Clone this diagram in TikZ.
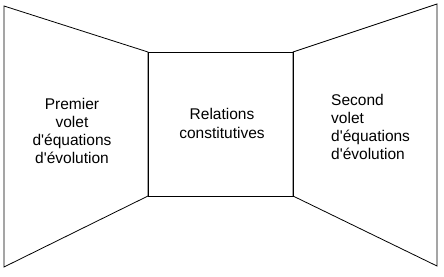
\documentclass[tikz,border=0pt]{standalone}
\usepackage{fontspec}
\setmainfont{Liberation Sans}
\usetikzlibrary{positioning}

\newcommand{\apo}{\textquotesingle}

\begin{document}
\begin{tikzpicture}[
  x=1pt, y=-1pt,
  every node/.style = {font=\fontsize{15.5}{18.2}\selectfont},
  wall/.style  = {draw=black, line width=0.8pt, line join=miter},
  label/.style = {inner sep=0pt},
]
\useasboundingbox (0,0) rectangle (444,276);

%% -- corners of the back wall
\coordinate (bl) at (148,196);
\coordinate (tl) at (148,52);
\coordinate (tr) at (293,52);
\coordinate (br) at (293,196);

%% -- outer corners
\coordinate (otl) at (4,6);
\coordinate (obl) at (4,267);
\coordinate (otr) at (437,4);
\coordinate (obr) at (437,266);

%% -- walls
\draw[wall] (otl) -- (tl) -- (bl) -- (obl) -- cycle;
\draw[wall] (tl) -- (tr) -- (br) -- (bl) -- cycle;
\draw[wall] (tr) -- (otr) -- (obr) -- (br) -- cycle;

%% -- texts
\node[label, align=center] (first) at (72,131)
  {Premier\\volet\\d\apo équations\\d\apo évolution};
\node[label, align=center] (rel) at (222,123.5)
  {Relations\\constitutives};
\node[label, align=left, anchor=west] (second) at (331,127)
  {Second\\volet\\d\apo équations\\d\apo évolution};

\end{tikzpicture}
\end{document}
